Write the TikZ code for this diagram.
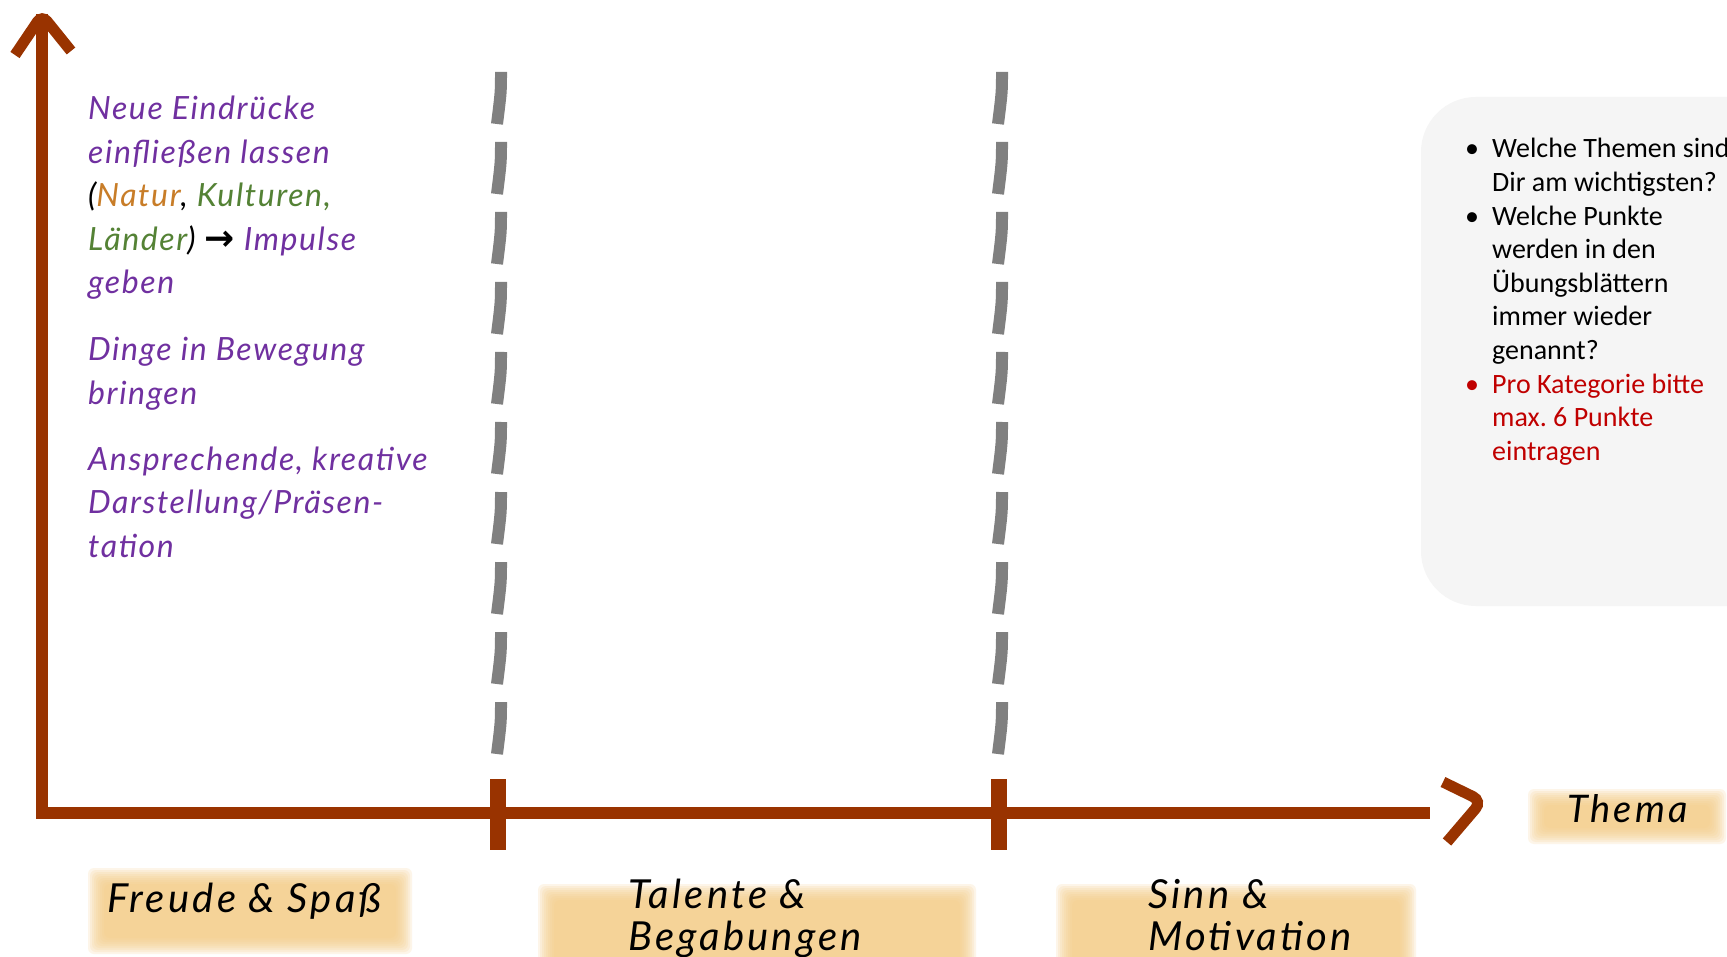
\documentclass[tikz,border=0pt]{standalone}
\usepackage{fontspec}
\setmainfont{Carlito}
\newfontfamily\handfont{Lato}[LetterSpace=5]
\newfontfamily\labelfont{Lato}[LetterSpace=8]
\newfontfamily\arrowfont{DejaVu Sans}
\usetikzlibrary{calc}

\definecolor{axisbrown}{RGB}{153,51,0}
\definecolor{handpurple}{RGB}{112,48,160}
\definecolor{naturorange}{RGB}{200,125,40}
\definecolor{kulturgreen}{RGB}{84,130,53}
\definecolor{hintred}{RGB}{192,0,0}
\definecolor{glowcore}{RGB}{245,204,134}
\definecolor{boxgray}{RGB}{245,245,245}
\definecolor{dashgray}{RGB}{128,128,128}

\tikzset{
    axisline/.style={draw=axisbrown, line width=12pt},
    tickline/.style={draw=axisbrown, line width=16pt},
    dashline/.style={draw=dashgray, line width=12pt},
    handtext/.style={anchor=base west, inner sep=0pt, text=handpurple,
        font=\handfont\itshape\fontsize{32}{43.5}\selectfont},
    labeltext/.style={anchor=base west, inner sep=0pt,
        font=\labelfont\itshape\fontsize{40}{42}\selectfont},
}

% soft orange box behind a label
\newcommand{\glowbox}[2]{%
    \foreach \g in {14,12,...,-2}
        \fill[glowcore, opacity=0.18, rounded corners=6pt] ($#1+(-\g,-\g)$) rectangle ($#2+(\g,\g)$);}

\begin{document}
\begin{tikzpicture}[x=1pt,y=-1pt]
                \clip (0,0) rectangle (1727,957);
                \fill[white] (0,0) rectangle (1727,957);

                % axes
                \coordinate (O) at (42,813);
                \coordinate (Y) at (42,14);
                \coordinate (X) at (1430,813);
                \draw[axisline, line join=miter] (Y) -- (O) -- (X);
                \draw[axisline, line width=11pt, rounded corners=8pt] (15,55) -- (42,15) -- (71,51);
                \draw[axisline, line width=11pt, rounded corners=10pt] (1443,782) -- (1482,801) -- (1447,842);

                % separators
                \foreach \x/\n in {498/a,999/b} {
                    \coordinate (tick\n) at (\x,813);
                    \draw[tickline] (\x,779) -- (\x,850);
                    \foreach \i in {0,...,9}
                        \draw[dashline] ($(\x+3,72+70*\i)$) .. controls ($(\x+3,92+70*\i)$) .. ($(\x-1,124+70*\i)$);
                }

                % left column
                \node[handtext] (eindruecke) at (88,120) {\begin{tabular}[t]{@{}l@{}}
                    Neue Eindrücke\\
                    einfließen lassen\\
                    {\color{black}(}{\color{naturorange}Natur}{\color{black},} {\color{kulturgreen}Kulturen,}\\
                    {\color{kulturgreen}Länder}{\color{black})} {\color{black}\arrowfont\bfseries\fontsize{36}{36}\selectfont →} Impulse\\
                    geben
                \end{tabular}};
                \node[handtext] (bewegung) at (88,361) {\begin{tabular}[t]{@{}l@{}}
                    Dinge in Bewegung\\
                    bringen
                \end{tabular}};
                \node[handtext] (darstellung) at (88,470) {\begin{tabular}[t]{@{}l@{}}
                    Ansprechende, kreative\\
                    Darstellung/Präsen-\\
                    tation
                \end{tabular}};

                % hint box
                \fill[boxgray, rounded corners=55pt] (1421,97) rectangle (1800,606);
                \node[anchor=base west, inner sep=0pt, font=\frenchspacing\fontsize{28}{33.6}\selectfont] (fragen) at (1465,158) {\begin{tabular}[t]{@{}p{27pt}@{}l@{}}
                    \textbullet & Welche Themen sind\\
                     & Dir am wichtigsten?\\
                    \textbullet & Welche Punkte\\
                     & werden in den\\
                     & Übungsblättern\\
                     & immer wieder\\
                     & genannt?\\
                    \textcolor{hintred}{\textbullet} & \textcolor{hintred}{Pro Kategorie bitte}\\
                     & \textcolor{hintred}{max. 6 Punkte}\\
                     & \textcolor{hintred}{eintragen}
                \end{tabular}};

                % category labels
                \glowbox{(102,882)}{(398,940)}
                \glowbox{(552,898)}{(962,975)}
                \glowbox{(1070,898)}{(1402,975)}
                \glowbox{(1542,803)}{(1712,830)}
                \node[labeltext] (freude) at (107,912) {Freude \& Spaß};
                \node[labeltext] (talente) at (628,908) {\begin{tabular}[t]{@{}l@{}}Talente \&\\Begabungen\end{tabular}};
                \node[labeltext] (sinn) at (1148,908) {\begin{tabular}[t]{@{}l@{}}Sinn \&\\Motivation\end{tabular}};
                \node[labeltext, font=\labelfont\itshape\fontsize{38}{42}\selectfont] (thema) at (1567,822) {Thema};
            \end{tikzpicture}
\end{document}
